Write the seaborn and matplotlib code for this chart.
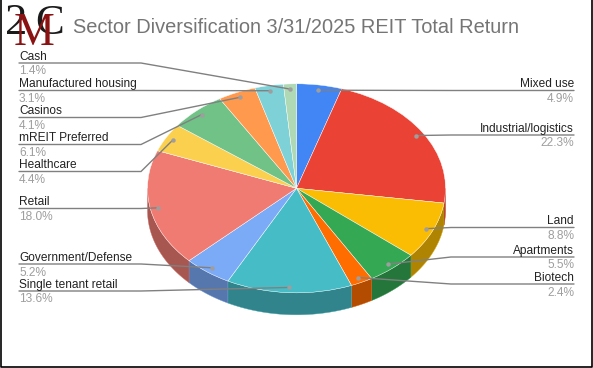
import numpy as np
import matplotlib
matplotlib.use('Agg')
import matplotlib.pyplot as plt
import seaborn as sns

sns.set_theme(style="white")
plt.rcParams['font.family'] = ['Liberation Sans', 'DejaVu Sans']

# Data
sectors = ['Mixed use', 'Industrial/logistics', 'Land', 'Apartments', 'Biotech',
           'Single tenant retail', 'Government/Defense', 'Retail', 'Healthcare',
           'mREIT Preferred', 'Casinos', 'Manufactured housing', 'Cash']
shares = [4.9, 22.3, 8.8, 5.5, 2.4, 13.6, 5.2, 18.0, 4.4, 6.1, 4.1, 3.1, 1.4]
colors = ['#4285F4', '#EA4335', '#FBBC04', '#34A853', '#FF6D01', '#46BDC6', '#7BAAF7',
          '#F07B72', '#FCD04F', '#71C287', '#FF994D', '#7ED1D7', '#AFD8B4']
title = 'Sector Diversification 3/31/2025 REIT Total Return'

# Layout in pixels
W, H = 593, 368
CX, CY, RX, RY = 296.5, 188.3, 149, 104.5
DEPTH = 22 / RY
label_y = [90.5, 135, 227.5, 257, 284, 291, 264, 208.5, 171.5, 144.5, 117.5, 90.5, 63]
label_right = [True, True, True, True, True, False, False, False, False, False, False, False, False]

palette = sns.color_palette(colors)
fig = plt.figure(figsize=(W / 100, H / 100), dpi=100, facecolor='white')

# Pie axes: unit circle squashed to an ellipse
ax = fig.add_axes([0, 0, 1, 1])
ax.pie(shares, colors=palette, startangle=90, counterclock=False,
       wedgeprops=dict(edgecolor='#ffffff', linewidth=0.3, alpha=1))
ax.set_aspect('auto')
ax.set_xlim(-CX / RX, (W - CX) / RX)
ax.set_ylim((CY - H) / RY, CY / RY)
ax.axis('off')

# Side wall of the front half
edges = np.cumsum([0] + shares) / sum(shares) * 360
for start, end, col in zip(edges[:-1], edges[1:], palette):
    a, b = max(start, 90), min(end, 270)
    if a >= b:
        continue
    t = np.radians(np.linspace(a, b, 60))
    x, y = np.sin(t), np.cos(t)
    dark = np.array(col) * 0.7
    ax.fill(np.r_[x, x[::-1]], np.r_[y, y[::-1] - DEPTH], color=dark, lw=0.3,
            ec=np.minimum(dark * 1.25, 1), zorder=0.5)

# Overlay in pixel coordinates for labels and leaders
ov = fig.add_axes([0, 0, 1, 1])
ov.set_xlim(0, W)
ov.set_ylim(H, 0)
ov.axis('off')
ov.patch.set_alpha(0)

mids = (edges[:-1] + edges[1:]) / 2
for name, share, mid, ly, right in zip(sectors, shares, mids, label_y, label_right):
    px = CX + 0.95 * RX * np.sin(np.radians(mid))
    py = CY - 0.95 * RY * np.cos(np.radians(mid))
    if right:
        xs, tx, ha = [574, 451, px], 574, 'right'
    else:
        xs, tx, ha = [19, 141, px], 19, 'left'
    ov.plot(xs, [ly, ly, py], color='#808080', lw=1.0, solid_joinstyle='miter', zorder=3)
    ov.plot([px], [py], 'o', ms=3.2, color='#9e9e9e', mew=0, zorder=4)
    ov.text(tx, ly - 3.2, name, ha=ha, va='baseline', fontsize=8.55, color='#222222')
    ov.text(tx, ly + 11.5, f'{share:.1f}%', ha=ha, va='baseline', fontsize=8.55, color='#9e9e9e')

ov.text(73, 33, title, ha='left', va='baseline', fontsize=14.37, color='#757575')

# Logo letters
ov.text(5, 34, '2', family='Liberation Serif', fontsize=32, color='#1a1a1a', ha='left', va='baseline')
ov.text(35, 34, 'C', family='Liberation Serif', fontsize=31, color='#1a1a1a', ha='left', va='baseline')
ov.text(14, 45, 'M', family='Liberation Serif', fontsize=33, color='#8b1212', ha='left', va='baseline')

# Black frame of the screenshot
ov.plot([0.5, 0.5, 591.8, 591.8], [0, 367, 367, 0], color='black', lw=1.2, clip_on=False)

fig.savefig('out.png', dpi=100)
